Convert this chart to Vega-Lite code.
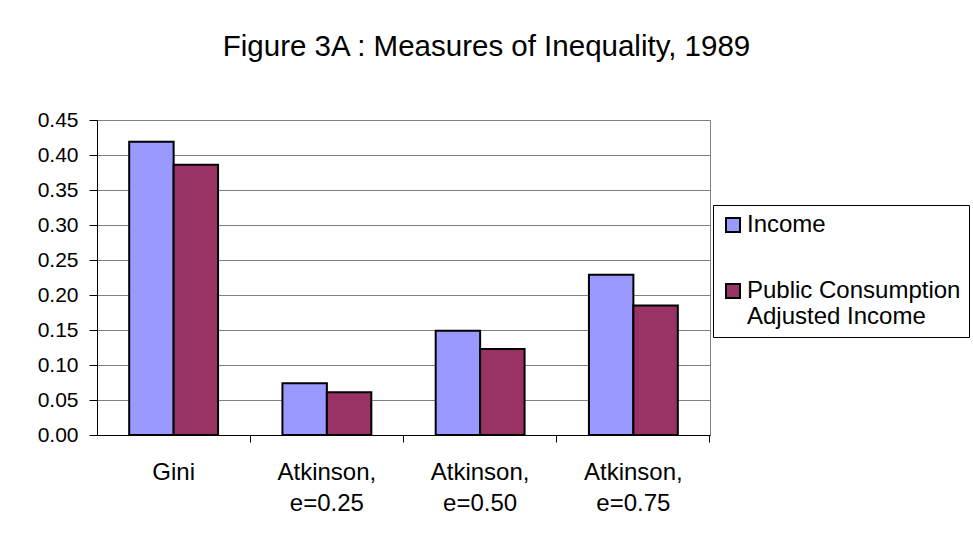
{
  "$schema": "https://vega.github.io/schema/vega-lite/v6.json",
  "autosize": {"type": "none"},
  "width": 613,
  "height": 315,
  "padding": {"left": 97, "top": 120, "right": 263, "bottom": 105},
  "background": "white",
  "title": {
    "text": "Figure 3A : Measures of Inequality, 1989",
    "font": "Liberation Sans",
    "fontSize": 29.5,
    "fontWeight": "normal",
    "color": "black",
    "anchor": "middle",
    "frame": "group",
    "dx": 83,
    "baseline": "alphabetic",
    "offset": 24
  },
  "config": {
    "view": {"stroke": "#808080", "strokeWidth": 1},
    "font": "Liberation Sans"
  },
  "data": {
    "values": [
      {"measure": "Gini", "series": "Income", "value": 0.419},
      {"measure": "Gini", "series": "Public Consumption Adjusted Income", "value": 0.386},
      {"measure": "Atkinson, e=0.25", "series": "Income", "value": 0.074},
      {"measure": "Atkinson, e=0.25", "series": "Public Consumption Adjusted Income", "value": 0.061},
      {"measure": "Atkinson, e=0.50", "series": "Income", "value": 0.149},
      {"measure": "Atkinson, e=0.50", "series": "Public Consumption Adjusted Income", "value": 0.123},
      {"measure": "Atkinson, e=0.75", "series": "Income", "value": 0.229},
      {"measure": "Atkinson, e=0.75", "series": "Public Consumption Adjusted Income", "value": 0.185}
    ]
  },
  "mark": {"type": "bar", "stroke": "black", "strokeWidth": 2},
  "encoding": {
    "x": {
      "field": "measure",
      "type": "nominal",
      "sort": ["Gini", "Atkinson, e=0.25", "Atkinson, e=0.50", "Atkinson, e=0.75"],
      "scale": {"paddingInner": 0.42, "paddingOuter": 0.21},
      "axis": {
        "title": null,
        "labelAngle": 0,
        "labelExpr": "split(datum.label, ' ')",
        "labelFont": "Liberation Sans",
        "labelFontSize": 24,
        "labelColor": "black",
        "labelLineHeight": 31,
        "labelBaseline": "top",
        "labelPadding": 18,
        "tickSize": 7,
        "tickColor": "black",
        "bandPosition": 1.36,
        "domainColor": "black",
        "domainWidth": 1,
        "grid": false
      }
    },
    "xOffset": {
      "field": "series",
      "type": "nominal",
      "sort": ["Income", "Public Consumption Adjusted Income"],
      "scale": {"paddingInner": 0, "paddingOuter": 0}
    },
    "y": {
      "field": "value",
      "type": "quantitative",
      "scale": {"domain": [0, 0.45], "nice": false},
      "axis": {
        "title": null,
        "values": [0, 0.05, 0.1, 0.15, 0.2, 0.25, 0.3, 0.35, 0.4, 0.45],
        "format": ".2f",
        "labelFont": "Liberation Sans",
        "labelFontSize": 21,
        "labelColor": "black",
        "labelPadding": 11,
        "tickSize": 8,
        "tickColor": "black",
        "domainColor": "black",
        "gridColor": "#808080",
        "gridWidth": 1.2
      }
    },
    "color": {
      "field": "series",
      "type": "nominal",
      "sort": ["Income", "Public Consumption Adjusted Income"],
      "scale": {"range": ["#9999FF", "#993366"]},
      "legend": {
        "title": null,
        "orient": "none",
        "legendX": 616,
        "legendY": 85,
        "direction": "vertical",
        "strokeColor": "black",
        "padding": 8,
        "symbolType": "square",
        "symbolSize": 196,
        "symbolStrokeColor": "black",
        "symbolStrokeWidth": 2,
        "symbolOpacity": 1,
        "labelFont": "Liberation Sans",
        "labelFontSize": 24,
        "labelColor": "black",
        "labelLimit": 300,
        "labelOffset": 2,
        "rowPadding": 42,
        "labelExpr": "datum.label == 'Income' ? 'Income' : ['Public Consumption', 'Adjusted Income']"
      }
    }
  }
}
